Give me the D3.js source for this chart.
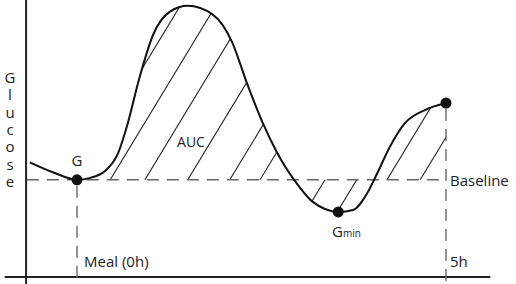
<!DOCTYPE html>
<html>
<head>
<meta charset="utf-8">
<title>Glucose AUC</title>
<style>
  body { margin: 0; background: #fff; }
  text { font-family: "Open Sans", sans-serif; fill: #222; }
</style>
</head>
<body>
<div id="chart"></div>
<script src="https://d3js.org/d3.v7.min.js"></script>
<script>
// curve samples: time in hours after the meal, glucose in arbitrary units
const timeH   = [-0.64, -0.30, 0, 0.18, 0.38, 0.56, 0.68, 0.85, 1.03, 1.26, 1.50, 1.84, 2.10, 2.30, 2.52, 2.71, 3.02, 3.20, 3.54, 3.74, 3.93, 4.07, 4.24, 4.44, 4.72, 5.0];
const glucose = [118, 107, 100, 102, 109, 128, 156, 206, 249, 273, 279, 270, 242, 200, 158, 128, 92, 77, 67, 69, 86, 107, 134, 158, 172, 179];
const baselineValue = 100;
const mealTime = 0;
const endTime = 5;
const minTime = 3.54;
// where the hatch strokes cross the baseline (hours)
const hatchAt = [-0.03, 0.45, 0.92, 1.50, 2.07, 2.48, 3.36, 3.79, 4.20, 4.65];
const yLetters = ["G", "l", "u", "c", "o", "s", "e"];

const W = 516, H = 284;
const svg = d3.select('#chart').append('svg').attr('width', W).attr('height', H);

const x = d3.scaleLinear().domain([0, 5]).range([77, 446]);
const y = d3.scaleLinear().domain([0, 285]).range([277, 0]);

const pts = timeH.map((t, i) => ({t: t, g: glucose[i]}));
const curve = d3.curveMonotoneX;

// hatched area between curve and baseline, from meal to 5h
const defs = svg.append('defs');
defs.append('clipPath').attr('id', 'aucClip')
  .append('path')
  .attr('d', d3.area().x(d => x(d.t)).y0(y(baselineValue)).y1(d => y(d.g)).curve(curve)(pts));
defs.append('clipPath').attr('id', 'timeClip')
  .append('rect')
  .attr('x', x(mealTime)).attr('y', 0)
  .attr('width', x(endTime) - x(mealTime)).attr('height', H);

const slope = 1.65;
const yb = y(baselineValue);
svg.append('g').attr('clip-path', 'url(#timeClip)')
  .append('g').attr('clip-path', 'url(#aucClip)')
  .selectAll('line').data(hatchAt).enter()
  .append('line')
  .attr('x1', d => x(d) - (H - yb) / slope).attr('y1', H)
  .attr('x2', d => x(d) + yb / slope).attr('y2', 0)
  .attr('stroke', '#222').attr('stroke-width', 1.1);

// axes (plain lines, no ticks)
svg.append('line')
  .attr('x1', x(-0.98)).attr('x2', x(5.6))
  .attr('y1', y(0)).attr('y2', y(0))
  .attr('stroke', '#222').attr('stroke-width', 2);
svg.append('line')
  .attr('x1', x(-0.69)).attr('x2', x(-0.69))
  .attr('y1', 0).attr('y2', H)
  .attr('stroke', '#222').attr('stroke-width', 2);

// dashed guides
const dash = '12,8';
svg.append('line')
  .attr('x1', x(-0.68)).attr('x2', x(endTime))
  .attr('y1', yb).attr('y2', yb)
  .attr('stroke', '#666').attr('stroke-width', 1.4).attr('stroke-dasharray', dash);
svg.append('line')
  .attr('x1', x(mealTime)).attr('x2', x(mealTime))
  .attr('y1', yb + 6).attr('y2', H)
  .attr('stroke', '#666').attr('stroke-width', 1.4).attr('stroke-dasharray', dash);
svg.append('line')
  .attr('x1', x(endTime)).attr('x2', x(endTime))
  .attr('y1', y(glucose[glucose.length - 1]) + 6).attr('y2', H)
  .attr('stroke', '#666').attr('stroke-width', 1.4).attr('stroke-dasharray', dash);

// glucose curve
svg.append('path')
  .attr('d', d3.line().x(d => x(d.t)).y(d => y(d.g)).curve(curve)(pts))
  .attr('fill', 'none').attr('stroke', '#111').attr('stroke-width', 2);

// key points
const keyPts = pts.filter(d => d.t === mealTime || d.t === minTime || d.t === endTime);
svg.selectAll('circle').data(keyPts).enter()
  .append('circle')
  .attr('cx', d => x(d.t)).attr('cy', d => y(d.g))
  .attr('r', 5.5).attr('fill', '#111');

// labels
svg.append('text').attr('x', x(mealTime)).attr('y', 166)
  .attr('text-anchor', 'middle').style('font-size', '15px').text('G');
svg.append('text').attr('x', 191).attr('y', 147)
  .attr('text-anchor', 'middle').style('font-size', '14px').text('AUC');
const gmin = svg.append('text').attr('x', 332).attr('y', 237).style('font-size', '15px');
gmin.append('tspan').text('G');
gmin.append('tspan').style('font-size', '10px').text('min');
svg.append('text').attr('x', 450).attr('y', 186).style('font-size', '15px').text('Baseline');
svg.append('text').attr('x', 84).attr('y', 267).style('font-size', '15px').text('Meal (0h)');
svg.append('text').attr('x', 450).attr('y', 267).style('font-size', '15px').text('5h');
svg.append('text').attr('x', 212).attr('y', 294)
  .attr('text-anchor', 'middle').style('font-size', '15px').text('Time');

// vertical axis title, one letter per row
svg.append('g').selectAll('text').data(yLetters).enter()
  .append('text')
  .attr('x', 10).attr('y', (d, i) => 83 + i * 17.3)
  .attr('text-anchor', 'middle').style('font-size', '15px')
  .text(d => d);
</script>
</body>
</html>
